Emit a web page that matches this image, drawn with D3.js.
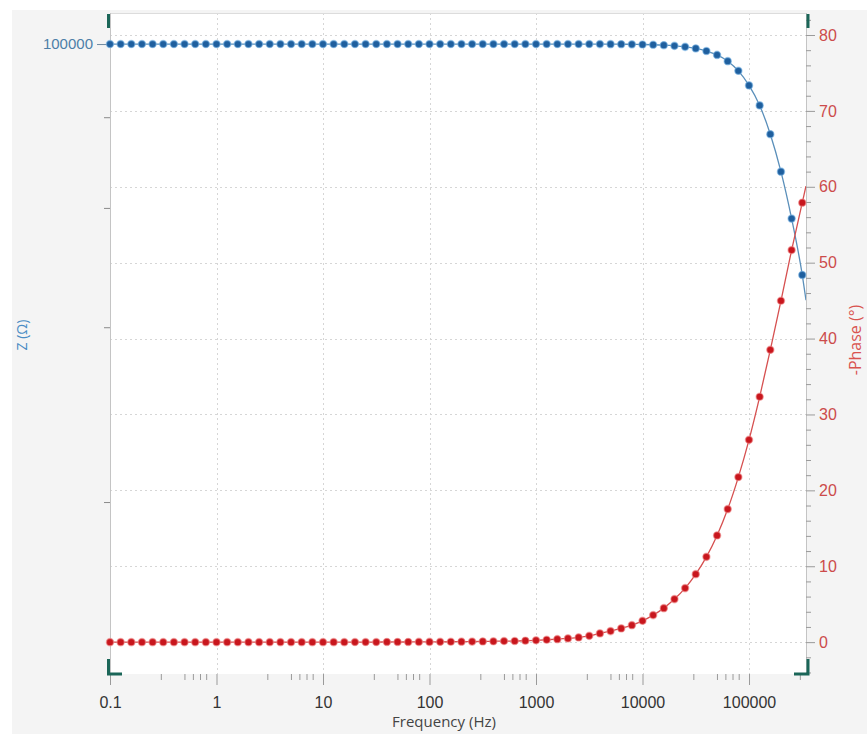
<!DOCTYPE html>
<html>
<head>
<meta charset="utf-8">
<script src="https://cdn.jsdelivr.net/npm/d3@7"></script>
<style>
  html, body { margin: 0; padding: 0; background: #ffffff; }
  svg { display: block; font-family: "Segoe UI", "Open Sans", "Noto Sans", sans-serif; }
</style>
</head>
<body>
<svg id="chart" width="867" height="734"></svg>
<script>
// ---------------- data ----------------
const freq = [0.1,0.1259,0.1585,0.1995,0.2512,0.3162,0.3981,0.5012,0.631,0.7943,
  1,1.259,1.585,1.995,2.512,3.162,3.981,5.012,6.31,7.943,
  10,12.59,15.85,19.95,25.12,31.62,39.81,50.12,63.1,79.43,
  100,125.9,158.5,199.5,251.2,316.2,398.1,501.2,631,794.3,
  1000,1259,1585,1995,2512,3162,3981,5012,6310,7943,
  10000,12590,15850,19950,25120,31620,39810,50120,63100,79430,
  100000,125900,158500,199500,251200,316200];

const zMod = [100000,100000,100000,100000,100000,100000,100000,100000,100000,100000,
  100000,100000,100000,100000,100000,100000,100000,100000,100000,100000,
  100000,100000,100000,100000,100000,100000,100000,100000,100000,100000,
  100000,100000,100000,100000,100000,100000,100000,100000,100000,100000,
  100000,100000,100000,100000,100000,99990,99980,99970,99950,99920,
  99880,99810,99700,99530,99260,98840,98180,97180,95600,93200,
  89700,85100,78900,71500,63200,54500];

const phase = [0,0,0,0,0,0,0,0,0,0,
  0,0,0,0,0,0,0,0,0,0,
  0,0,0,0.01,0.01,0.01,0.02,0.02,0.02,0.03,
  0.03,0.04,0.05,0.06,0.07,0.09,0.11,0.14,0.15,0.19,
  0.24,0.31,0.39,0.49,0.62,0.83,1.15,1.45,1.81,2.24,
  2.81,3.56,4.48,5.67,7.12,8.96,11.24,14.06,17.53,21.75,
  26.66,32.33,38.52,44.98,51.66,57.9];

// fitted curves continue to the right edge of the plot
const fitEndFreq = 342800;
const fitEndZ = 51000;
const fitEndPhase = 60.1;

const xTicks = [0.1, 1, 10, 100, 1000, 10000, 100000];
const xTickLabels = ["0.1", "1", "10", "100", "1000", "10000", "100000"];
const xMinorMultiples = [3, 5, 6, 7, 8];
const zTicks = [100000, 82500, 65000, 47500, 30000];
const zTickLabels = ["100000", "", "", "", ""];
const phaseTicks = [0, 10, 20, 30, 40, 50, 60, 70, 80];
const phaseMinorStep = 2;

// ---------------- layout ----------------
const W = 867, H = 734;
const L = 110, R = 806, T = 13, B = 674;
const svg = d3.select("#chart");

const x = d3.scaleLog().domain([0.1, 342800]).range([L, R]);
const yZ = d3.scaleLog().domain([19090, 108500]).range([B, T]);
const yP = d3.scaleLinear().domain([-4.2, 82.9]).range([B, T]);

// panel backgrounds
svg.append("rect").attr("x", 0).attr("y", 0).attr("width", W).attr("height", H).attr("fill", "#ffffff");
svg.append("rect").attr("x", 12).attr("y", 10).attr("width", W - 12).attr("height", H - 10).attr("fill", "#f4f4f4");
svg.append("rect").attr("x", L).attr("y", T).attr("width", R - L).attr("height", B - T).attr("fill", "#ffffff");

// grid
const grid = svg.append("g").attr("stroke", "#d6d6d6").attr("stroke-width", 1).attr("stroke-dasharray", "2,3");
grid.selectAll("line.v").data(xTicks.filter(d => d > 0.1)).join("line")
  .attr("x1", d => Math.round(x(d)) + 0.5).attr("x2", d => Math.round(x(d)) + 0.5)
  .attr("y1", T).attr("y2", B);
grid.selectAll("line.h").data(phaseTicks).join("line")
  .attr("x1", L).attr("x2", R)
  .attr("y1", d => Math.round(yP(d)) + 0.5).attr("y2", d => Math.round(yP(d)) + 0.5);

// plot border
svg.append("line").attr("x1", L).attr("x2", R).attr("y1", T + 0.5).attr("y2", T + 0.5).attr("stroke", "#dcdcdc");
svg.append("line").attr("x1", L + 0.5).attr("x2", L + 0.5).attr("y1", T).attr("y2", B).attr("stroke", "#c4c4c4");
svg.append("line").attr("x1", R + 0.5).attr("x2", R + 0.5).attr("y1", T).attr("y2", B).attr("stroke", "#c4c4c4");

// ---------------- axes ----------------
// bottom axis
const minorX = [];
xTicks.forEach(t => xMinorMultiples.forEach(m => { const v = t * m; if (v < 342800) minorX.push(v); }));
const xAxisMajor = d3.axisBottom(x).tickValues(xTicks).tickSize(11).tickFormat((d, i) => xTickLabels[i]);
const xAxisMinor = d3.axisBottom(x).tickValues(minorX).tickSize(6).tickFormat("");
const gxm = svg.append("g").attr("transform", `translate(0,${B})`).call(xAxisMinor);
const gx = svg.append("g").attr("transform", `translate(0,${B})`).call(xAxisMajor);
[gx, gxm].forEach(g => {
  g.select(".domain").remove();
  g.selectAll(".tick line").attr("stroke", "#9a9a9a");
});
gx.selectAll(".tick text").attr("fill", "#333").attr("font-size", 16).attr("y", 23).attr("dy", "0.71em");

svg.append("text").attr("x", 444).attr("y", 727).attr("text-anchor", "middle")
  .attr("fill", "#444").attr("font-size", 15).text("Frequency (Hz)");

// left axis (|Z|)
const gz = svg.append("g").attr("transform", `translate(${L},0)`)
  .call(d3.axisLeft(yZ).tickValues(zTicks).tickSize(6).tickFormat((d, i) => zTickLabels[i]));
gz.select(".domain").remove();
gz.selectAll(".tick line").attr("stroke", "#8a8a8a");
gz.selectAll(".tick").filter(d => d === 100000).select("line").attr("x2", -13).attr("stroke", "#6f8aa0");
gz.selectAll(".tick text").attr("fill", "#4d7fa8").attr("font-size", 15).attr("x", -17);

svg.append("text").attr("transform", "translate(27,335) rotate(-90)").attr("text-anchor", "middle")
  .attr("fill", "#4a8cc4").attr("font-size", 14).text("Z (Ω)");

// right axis (phase)
const minorP = d3.range(-4, 83, phaseMinorStep).filter(d => d % 10 !== 0);
const gpm = svg.append("g").attr("transform", `translate(${R},0)`)
  .call(d3.axisRight(yP).tickValues(minorP).tickSize(5).tickFormat(""));
const gp = svg.append("g").attr("transform", `translate(${R},0)`)
  .call(d3.axisRight(yP).tickValues(phaseTicks).tickSize(9).tickFormat(d3.format("d")));
[gp, gpm].forEach(g => {
  g.select(".domain").remove();
  g.selectAll(".tick line").attr("stroke", "#9a9a9a");
});
gp.selectAll(".tick text").attr("fill", "#cc4b4b").attr("font-size", 16).attr("x", 13);

svg.append("text").attr("transform", "translate(861,340) rotate(-90)").attr("text-anchor", "middle")
  .attr("fill", "#d9534f").attr("font-size", 16).text("-Phase (°)");

// corner brackets
const br = svg.append("g").attr("stroke", "#1b6658").attr("stroke-width", 3).attr("fill", "none");
br.append("line").attr("x1", L - 1.5).attr("x2", L - 1.5).attr("y1", T + 1).attr("y2", T + 15);
br.append("line").attr("x1", R + 2).attr("x2", R + 2).attr("y1", T + 1).attr("y2", T + 15);
br.append("path").attr("d", `M${L - 1.5},${B - 15} V${B} H${L + 12}`);
br.append("path").attr("d", `M${R + 2},${B - 15} V${B} H${R - 12}`);

// ---------------- series ----------------
const zPts = freq.map((f, i) => [f, zMod[i]]);
const pPts = freq.map((f, i) => [f, phase[i]]);

svg.append("clipPath").attr("id", "clip").append("rect")
  .attr("x", L).attr("y", T).attr("width", R - L).attr("height", B - T);

const plot = svg.append("g").attr("clip-path", "url(#clip)");

const lineZ = d3.line().x(d => x(d[0])).y(d => yZ(d[1])).curve(d3.curveMonotoneX);
const lineP = d3.line().x(d => x(d[0])).y(d => yP(d[1])).curve(d3.curveMonotoneX);

plot.append("path").datum(zPts.concat([[fitEndFreq, fitEndZ]]))
  .attr("d", lineZ).attr("fill", "none").attr("stroke", "#5a8fba").attr("stroke-width", 1.3);
plot.append("path").datum(pPts.concat([[fitEndFreq, fitEndPhase]]))
  .attr("d", lineP).attr("fill", "none").attr("stroke", "#d65050").attr("stroke-width", 1.3);

const dots = svg.append("g");
dots.selectAll("circle.z").data(zPts).join("circle")
  .attr("cx", d => x(d[0])).attr("cy", d => yZ(d[1])).attr("r", 3.6)
  .attr("fill", "#1f5f9e").attr("stroke", "rgba(120,180,230,0.55)").attr("stroke-width", 1.4);
dots.selectAll("circle.p").data(pPts).join("circle")
  .attr("cx", d => x(d[0])).attr("cy", d => yP(d[1])).attr("r", 3.6)
  .attr("fill", "#c8161d").attr("stroke", "rgba(240,140,140,0.55)").attr("stroke-width", 1.4);
</script>
</body>
</html>
